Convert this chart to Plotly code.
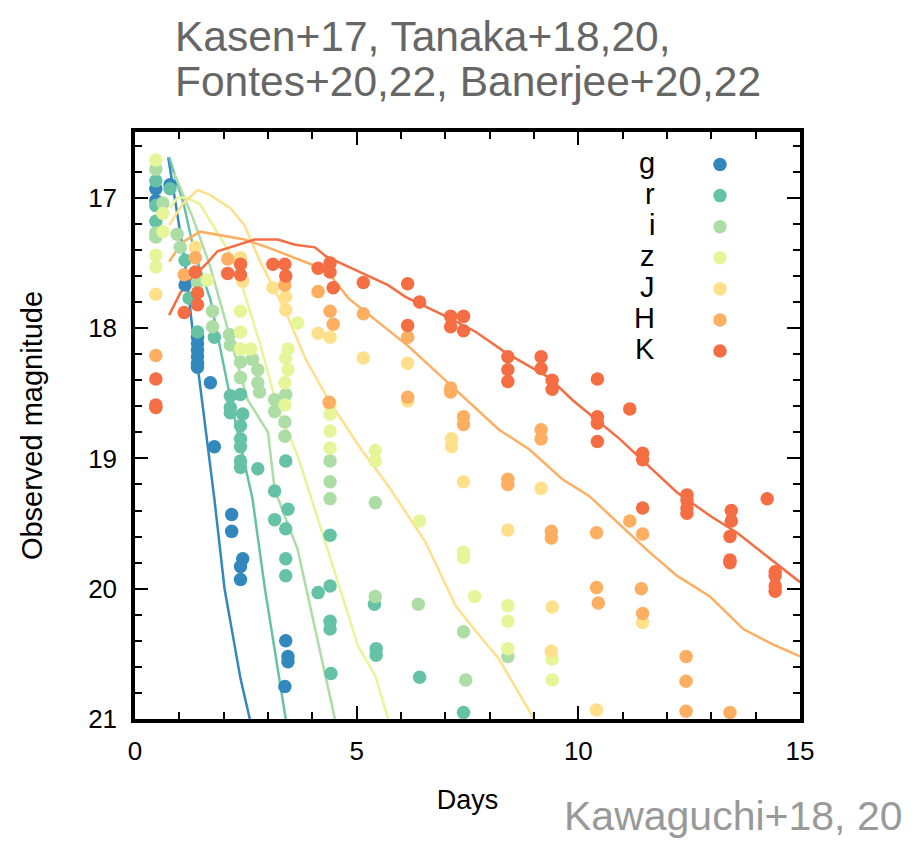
import plotly.graph_objects as go

# ---------------- data ----------------
bands = ["g", "r", "i", "z", "J", "H", "K"]
colors = ["#3288bd", "#66c2a5", "#abdda4", "#e6f598", "#fee08b", "#fdae61", "#f46d43"]

# observations (days, magnitude)
obs_g_t = [0.47, 0.47, 0.79, 1.13, 1.41, 1.41, 1.41, 1.41, 1.41, 1.41, 1.70, 1.79, 2.18, 2.18, 2.43, 2.38, 2.38, 3.40, 3.45, 3.45, 3.38]
obs_g_m = [16.93, 17.02, 16.90, 17.67, 18.07, 18.12, 18.17, 18.22, 18.27, 18.30, 18.42, 18.91, 19.43, 19.56, 19.77, 19.83, 19.93, 20.40, 20.52, 20.56, 20.75]

obs_r_t = [0.47, 0.47, 0.47, 0.79, 1.13, 1.22, 1.41, 1.79, 2.15, 2.15, 2.15, 2.38, 2.38, 2.38, 2.38, 2.38, 2.38, 2.43, 2.77, 3.15, 3.15, 3.40, 3.40, 3.40, 3.40, 3.45, 4.13, 4.40, 4.40, 4.40, 4.40, 4.42, 5.40, 5.44, 5.44, 6.42, 7.41]
obs_r_m = [16.87, 17.06, 17.18, 16.93, 17.48, 17.77, 18.03, 18.07, 18.52, 18.61, 18.65, 18.51, 18.75, 18.85, 18.91, 19.02, 19.07, 18.66, 19.08, 19.25, 19.47, 19.02, 19.54, 19.77, 19.90, 19.39, 20.03, 19.59, 19.98, 20.25, 20.31, 20.65, 20.12, 20.46, 20.51, 20.68, 20.95]

obs_i_t = [0.47, 0.47, 0.47, 0.63, 0.95, 1.02, 1.41, 1.75, 1.75, 2.13, 2.15, 2.38, 2.38, 2.65, 2.77, 2.77, 2.81, 3.15, 3.15, 3.40, 3.38, 3.38, 4.40, 4.40, 4.40, 5.42, 5.42, 6.39, 7.41, 7.46, 8.41]
obs_i_m = [16.78, 17.27, 17.30, 17.04, 17.28, 17.38, 17.65, 17.87, 17.99, 18.05, 18.13, 18.26, 18.38, 18.24, 18.32, 18.42, 18.49, 18.55, 18.64, 18.51, 18.72, 18.83, 19.02, 19.18, 19.31, 19.34, 20.06, 20.12, 20.33, 20.70, 20.52]

obs_z_t = [0.47, 0.47, 0.47, 0.63, 0.63, 1.63, 2.38, 2.38, 2.38, 2.61, 3.38, 3.38, 3.40, 3.45, 3.45, 3.67, 4.40, 4.40, 4.40, 4.40, 5.42, 5.42, 6.42, 7.41, 7.41, 7.66, 8.41, 8.41, 8.41, 9.41, 9.41]
obs_z_m = [16.71, 17.44, 17.53, 17.12, 17.26, 17.63, 17.87, 18.03, 18.16, 18.16, 18.42, 18.59, 18.23, 18.16, 18.32, 17.96, 18.59, 18.66, 18.79, 18.92, 18.94, 19.02, 19.48, 19.72, 19.76, 20.06, 20.13, 20.25, 20.46, 20.54, 20.70]

obs_J_t = [0.47, 1.36, 2.38, 2.43, 3.11, 3.40, 3.40, 4.13, 4.40, 5.15, 6.15, 6.15, 7.14, 7.14, 7.41, 8.41, 9.16, 9.39, 9.41, 10.41, 11.45]
obs_J_m = [17.74, 17.38, 17.46, 17.64, 17.69, 17.76, 17.86, 18.04, 18.07, 18.23, 18.27, 18.56, 18.85, 18.91, 19.18, 19.55, 19.23, 20.48, 20.14, 20.93, 20.26]

obs_H_t = [0.47, 1.11, 1.36, 2.09, 3.38, 4.13, 4.40, 4.47, 4.38, 5.15, 6.15, 6.15, 7.12, 7.12, 7.41, 7.41, 8.41, 8.41, 9.16, 9.16, 9.39, 9.39, 10.41, 10.41, 10.45, 11.16, 11.45, 11.42, 11.45, 12.43, 12.43, 12.43, 13.42]
obs_H_m = [18.21, 17.59, 17.46, 17.47, 17.67, 17.72, 17.87, 17.97, 18.57, 17.89, 18.07, 18.53, 18.46, 18.49, 18.68, 18.74, 19.16, 19.20, 18.78, 18.85, 19.56, 19.61, 19.57, 19.99, 20.11, 19.48, 19.58, 20.00, 20.19, 20.52, 20.71, 20.94, 20.95]

obs_K_t = [0.47, 0.47, 0.47, 1.11, 1.36, 1.41, 1.41, 2.09, 2.38, 2.38, 3.11, 3.38, 3.40, 4.13, 4.40, 4.40, 4.47, 5.15, 6.15, 6.15, 6.42, 7.12, 7.12, 7.41, 7.41, 8.41, 8.41, 8.41, 9.16, 9.16, 9.41, 9.41, 10.43, 10.43, 10.43, 10.43, 11.16, 11.45, 11.45, 11.45, 12.45, 12.45, 12.45, 12.45, 13.45, 13.45, 13.42, 13.42, 13.42, 14.26, 14.44, 14.44, 14.44, 14.44]
obs_K_m = [18.39, 18.59, 18.61, 17.88, 17.57, 17.73, 17.82, 17.58, 17.51, 17.59, 17.51, 17.51, 17.60, 17.54, 17.50, 17.57, 17.69, 17.65, 17.66, 17.98, 17.80, 17.91, 17.99, 17.91, 18.02, 18.22, 18.32, 18.41, 18.22, 18.31, 18.40, 18.47, 18.39, 18.68, 18.73, 18.87, 18.62, 18.96, 19.01, 19.38, 19.28, 19.32, 19.38, 19.42, 19.40, 19.48, 19.60, 19.78, 19.80, 19.31, 19.87, 19.90, 19.98, 20.02]

# model light curves (days, magnitude)
mod_g_t = [0.75, 0.95, 1.13, 1.29, 1.45, 1.79, 2.02, 2.38, 2.59]
mod_g_m = [16.69, 17.11, 17.50, 17.99, 18.39, 19.31, 20.00, 20.69, 21.0]

mod_r_t = [0.77, 1.10, 1.34, 1.70, 2.20, 2.65, 2.93, 3.40]
mod_r_m = [16.69, 17.05, 17.42, 17.78, 18.62, 19.31, 20.00, 21.0]

mod_i_t = [0.88, 1.30, 1.68, 2.09, 2.54, 3.00, 3.15, 3.67, 4.51]
mod_i_m = [16.81, 17.15, 17.51, 18.01, 18.55, 18.80, 19.24, 19.70, 21.0]

mod_z_t = [0.79, 0.95, 1.18, 1.47, 1.70, 2.02, 2.24, 2.81, 3.22, 3.38, 3.67, 4.29, 5.03, 5.42, 5.71]
mod_z_m = [17.08, 17.00, 17.00, 17.05, 17.18, 17.36, 17.48, 18.11, 18.62, 18.75, 18.98, 19.64, 20.44, 20.67, 21.0]

mod_J_t = [0.77, 1.07, 1.41, 1.70, 2.15, 2.47, 2.81, 3.38, 3.85, 4.40, 5.10, 5.71, 6.55, 7.23, 7.60, 8.21, 9.00]
mod_J_m = [17.21, 17.05, 16.94, 16.98, 17.08, 17.21, 17.48, 17.86, 18.24, 18.57, 18.93, 19.21, 19.64, 20.13, 20.29, 20.54, 21.0]

mod_H_t = [0.77, 1.07, 1.47, 2.47, 2.99, 3.51, 3.97, 4.35, 4.81, 6.17, 7.07, 8.21, 8.89, 9.64, 10.25, 11.54, 12.22, 12.97, 13.72, 14.40, 15.0]
mod_H_m = [17.49, 17.34, 17.26, 17.32, 17.38, 17.45, 17.51, 17.57, 17.77, 18.14, 18.42, 18.78, 18.93, 19.16, 19.29, 19.70, 19.90, 20.06, 20.31, 20.43, 20.52]

mod_K_t = [0.77, 1.02, 1.25, 1.63, 1.86, 2.31, 2.70, 3.22, 3.61, 4.06, 4.31, 4.88, 5.71, 6.10, 7.07, 7.69, 8.37, 9.34, 9.86, 10.93, 12.22, 12.97, 13.58, 15.0]
mod_K_m = [17.90, 17.73, 17.63, 17.50, 17.41, 17.36, 17.32, 17.32, 17.36, 17.38, 17.45, 17.54, 17.67, 17.76, 17.92, 18.03, 18.19, 18.38, 18.55, 18.85, 19.26, 19.44, 19.57, 19.95]

x_ticks = [0, 5, 10, 15]
y_ticks = [17, 18, 19, 20, 21]

title_lines = ["Kasen+17, Tanaka+18,20,", "Fontes+20,22, Banerjee+20,22"]
credit = "Kawaguchi+18, 20"

obs_t = [obs_g_t, obs_r_t, obs_i_t, obs_z_t, obs_J_t, obs_H_t, obs_K_t]
obs_m = [obs_g_m, obs_r_m, obs_i_m, obs_z_m, obs_J_m, obs_H_m, obs_K_m]
mod_t = [mod_g_t, mod_r_t, mod_i_t, mod_z_t, mod_J_t, mod_H_t, mod_K_t]
mod_m = [mod_g_m, mod_r_m, mod_i_m, mod_z_m, mod_J_m, mod_H_m, mod_K_m]

# ---------------- figure ----------------
fig = go.Figure()
for b, c, t, m in zip(bands, colors, mod_t, mod_m):
    fig.add_trace(go.Scatter(x=t, y=m, mode="lines", line=dict(color=c, width=2.5),
                             showlegend=False, hoverinfo="skip", cliponaxis=True))
for b, c, t, m in zip(bands, colors, obs_t, obs_m):
    fig.add_trace(go.Scatter(x=t, y=m, mode="markers", name="",
                             marker=dict(color=c, size=13.5, line=dict(width=0)),
                             showlegend=True, cliponaxis=True))

L, R, T, B = 135, 116, 132, 123
pw = 916 - L - R
ph = 842 - T - B

def px_x(x):
    return (x - L) / pw

def px_y(y):
    return (842 - B - y) / ph

FONT = "Liberation Sans, Arial, sans-serif"

# legend labels (right-aligned, left of the markers)
row0 = 163
step = 31.0
for k, b in enumerate(bands):
    fig.add_annotation(text=b, xref="paper", yref="paper", x=px_x(657), y=px_y(row0 + k * step),
                       xanchor="right", yanchor="middle", showarrow=False,
                       font=dict(size=29, color="black", family=FONT))

# title lines
for k, (line, yc) in enumerate(zip(title_lines, [36, 81])):
    fig.add_annotation(text=line, xref="paper", yref="paper", x=px_x(173), y=px_y(yc),
                       xanchor="left", yanchor="middle", showarrow=False,
                       font=dict(size=42.5, color="#666666", family=FONT))

fig.add_annotation(text=credit, xref="paper", yref="paper",
                   x=px_x(905), y=px_y(816), xanchor="right", yanchor="middle",
                   showarrow=False, font=dict(size=41, color="#999999", family=FONT))

fig.update_layout(
    width=916, height=842,
    margin=dict(l=L, r=R, t=T, b=B, autoexpand=False),
    paper_bgcolor="white", plot_bgcolor="white",
    font=dict(family=FONT, color="black"),
    showlegend=True,
    legend=dict(x=px_x(700), y=px_y(144), xanchor="left", yanchor="top",
                bgcolor="rgba(0,0,0,0)", borderwidth=0, font=dict(size=21.6),
                itemwidth=30, tracegroupgap=0),
    xaxis=dict(range=[0, 15], tickvals=x_ticks, ticks="inside", ticklen=13, tickwidth=2,
               tickcolor="black", showline=True, linewidth=3.5, linecolor="black", mirror="ticks",
               showgrid=False, zeroline=False, tickfont=dict(size=26), ticklabelstandoff=6,
               minor=dict(dtick=1, ticks="inside", ticklen=7, tickwidth=2, tickcolor="black", showgrid=False),
               title=dict(text="Days", font=dict(size=27), standoff=26)),
    yaxis=dict(range=[21, 16.495], tickvals=y_ticks, ticks="inside", ticklen=13, tickwidth=2,
               tickcolor="black", showline=True, linewidth=3.5, linecolor="black", mirror="ticks",
               showgrid=False, zeroline=False, tickfont=dict(size=26), ticklabelstandoff=9,
               minor=dict(dtick=0.2, tick0=17, ticks="inside", ticklen=7, tickwidth=2, tickcolor="black", showgrid=False),
               title=dict(text="Observed magnitude", font=dict(size=29), standoff=38)),
)

fig.write_html("out.html")
